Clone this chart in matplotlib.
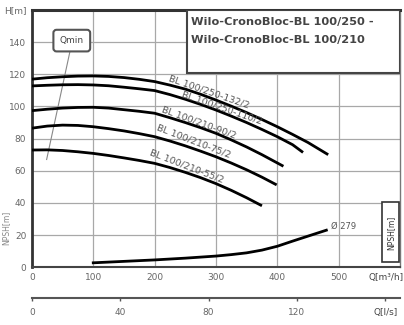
import matplotlib
matplotlib.use('Agg')
import matplotlib.pyplot as plt
from matplotlib.patches import Rectangle

# Kennlinien (Q in m3/h, H in m)
namen = ['BL 100/250-132/2', 'BL 100/250-110/2', 'BL 100/210-90/2',
         'BL 100/210-75/2', 'BL 100/210-55/2']

q1 = [0, 25, 50, 75, 100, 125, 150, 175, 200, 225, 250, 275, 300, 325, 350, 375, 400, 425, 450, 483]
h1 = [117, 117.9, 118.5, 118.9, 119, 118.7, 118, 116.9, 115.5, 113.3, 110.8, 107.6, 104, 100.2,
      96.2, 91.9, 87.4, 82.6, 77.6, 70]

q2 = [0, 25, 50, 75, 100, 125, 150, 175, 200, 225, 250, 275, 300, 325, 350, 375, 400, 425, 442]
h2 = [112.8, 113.2, 113.5, 113.6, 113.4, 112.9, 112, 111, 109.9, 107.4, 104.5, 101.3, 97.8, 94,
      90, 85.7, 81.2, 76.2, 71.4]

q3 = [0, 25, 50, 75, 100, 125, 150, 175, 200, 225, 250, 275, 300, 325, 350, 375, 410]
h3 = [97.4, 98.3, 99, 99.4, 99.5, 99, 98, 97, 95.8, 93, 90, 86.8, 83.3, 79.2, 74.8, 70, 62.8]

q4 = [0, 25, 50, 75, 100, 125, 150, 175, 200, 225, 250, 275, 300, 325, 350, 375, 399]
h4 = [86.5, 87.8, 88.4, 88.2, 87.4, 86.2, 84.8, 83.1, 81.2, 78.5, 75.5, 72.2, 68.7, 64.8, 60.6,
      56, 51.2]

q5 = [0, 25, 50, 75, 100, 125, 150, 175, 200, 225, 250, 275, 300, 325, 350, 375]
h5 = [72.9, 73, 72.6, 71.8, 70.8, 69.5, 68, 66.4, 64.6, 62, 59, 55.7, 52, 47.8, 43.2, 38.2]

# NPSH-Kurve
q_npsh = [100, 150, 200, 250, 300, 325, 350, 375, 400, 425, 450, 480]
h_npsh = [2.7, 3.6, 4.5, 5.6, 6.9, 7.8, 8.9, 10.6, 13, 16.2, 19.3, 23]

# Qmin-Linie
qmin_q = [24, 63]
qmin_h = [67, 136]

q_ticks = [0, 100, 200, 300, 400, 500]
h_ticks = [0, 20, 40, 60, 80, 100, 120, 140, 160]
h_labels = ['0', '20', '40', '60', '80', '100', '120', '140', 'H[m]']
ls_ticks = [0, 40, 80, 120, 160]
ls_labels = ['0', '40', '80', '120', 'Q[l/s]']

# Position und Winkel der Beschriftungen
label_pos = [(288, 109, -19), (310, 99, -19), (272, 90, -20), (264, 78.5, -21), (253, 63, -21)]

grau = '#666666'

fig = plt.figure(figsize=(4.04, 3.25), dpi=100)
ax = fig.add_axes([0.079, 0.178, 0.911, 0.791])
ax.set_xlim(0, 600)
ax.set_ylim(0, 160)

ax.set_xticks(q_ticks)
ax.set_yticks(h_ticks)
ax.set_yticklabels(h_labels)
ax.grid(True, color='#a8a8a8', lw=0.9)
ax.tick_params(length=0, labelsize=6.5, labelcolor=grau, pad=4)

ax.spines['left'].set_linewidth(2)
ax.spines['left'].set_color('#333333')
ax.spines['top'].set_linewidth(2.2)
ax.spines['top'].set_color('#333333')
ax.spines['bottom'].set_linewidth(1.5)
ax.spines['bottom'].set_color('#444444')
ax.spines['right'].set_linewidth(1)
ax.spines['right'].set_color('#777777')

for q, h in [(q1, h1), (q2, h2), (q3, h3), (q4, h4), (q5, h5)]:
    ax.plot(q, h, color='black', lw=2, solid_capstyle='butt', solid_joinstyle='round', zorder=4)

for name, (x, y, rot) in zip(namen, label_pos):
    ax.text(x, y, name, rotation=rot, fontsize=6.8, color='#555555',
            ha='center', va='center', rotation_mode='anchor', zorder=5)

ax.plot(q_npsh, h_npsh, color='black', lw=2, solid_joinstyle='round', zorder=4)
ax.text(487, 25.5, 'Ø 279', fontsize=6, color='#555555', va='center')

# Qmin
ax.plot(qmin_q, qmin_h, color='#888888', lw=0.8, zorder=3)
ax.text(65, 141, 'Qmin', fontsize=6.5, color='#444444', ha='center', va='center', zorder=6,
        bbox=dict(boxstyle='round,pad=0.7,rounding_size=0.35', fc='white', ec='#555555', lw=1.5))

# Titelkasten
ax.add_patch(Rectangle((253, 121), 347, 39, fc='white', ec='#444444', lw=1.5, zorder=3))
ax.text(259, 152.5, 'Wilo-CronoBloc-BL 100/250 -', fontsize=8.2, fontweight='bold',
        color='#444444', va='center', zorder=6)
ax.text(259, 141.5, 'Wilo-CronoBloc-BL 100/210', fontsize=8.2, fontweight='bold',
        color='#444444', va='center', zorder=6)

# NPSH-Kasten rechts
ax.add_patch(Rectangle((571, 3), 27, 37.5, fc='white', ec='#333333', lw=1.2, zorder=5))
ax.text(584.5, 21.5, 'NPSH[m]', rotation=90, fontsize=5.5, color='#333333', ha='center', va='center',
        zorder=6)
fig.text(0.015, 0.30, 'NPSH[m]', rotation=90, fontsize=5.5, color='#888888', ha='center', va='center')

fig.text(0.998, 0.147, 'Q[m³/h]', fontsize=6.5, color='#444444', ha='right', va='center')

# zweite Achse in l/s
sec = ax.secondary_xaxis(-0.12, functions=(lambda q: q / 3.6, lambda l: l * 3.6))
sec.set_xticks(ls_ticks)
sec.set_xticklabels(ls_labels)
sec.spines['bottom'].set_linewidth(1.5)
sec.spines['bottom'].set_color('#555555')
sec.tick_params(length=2, width=1, color='#555555', labelsize=6.5, labelcolor=grau, pad=5)
labs = sec.get_xticklabels()
labs[-1].set_color('#444444')

fig.savefig('out.png', dpi=100)
